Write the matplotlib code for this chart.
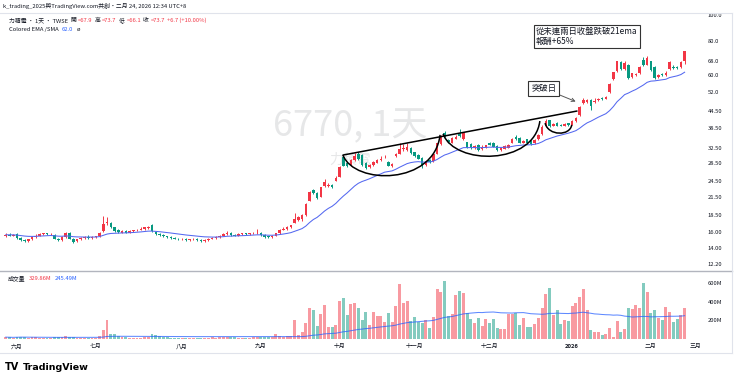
import numpy as np
import pandas as pd
import matplotlib
matplotlib.use("Agg")
import matplotlib.pyplot as plt
from matplotlib.path import Path
from matplotlib.patches import PathPatch
from matplotlib.lines import Line2D
from matplotlib.ticker import FixedLocator, NullLocator

plt.rcParams['font.family'] = ['Noto Sans CJK TC', 'DejaVu Sans']

# ---------------- data ----------------
holidays = ["2025-05-30", "2025-09-29", "2025-10-06", "2025-10-10", "2025-10-24",
            "2025-12-25", "2026-01-01", "2026-02-12", "2026-02-13", "2026-02-16",
            "2026-02-17", "2026-02-18", "2026-02-19", "2026-02-20", "2026-02-27"]
trade_dates = pd.bdate_range("2025-05-27", "2026-02-24")
trade_dates = trade_dates[~trade_dates.isin(pd.to_datetime(holidays))]
future_dates = pd.bdate_range("2026-02-25", "2026-03-06")
future_dates = future_dates[~future_dates.isin(pd.to_datetime(holidays))]

opens = [15.4, 15.6, 15.5, 15.7, 15.2, 14.9, 14.8, 15.0, 15.3, 15.5, 15.7, 15.8, 15.7, 15.6, 15.1, 14.9, 15.3, 15.9, 15.1, 14.8,
         15.0, 15.2, 15.3, 15.2, 15.3, 15.4, 16.1, 17.2, 17.3, 16.6, 16.2, 15.9, 16.1, 15.9, 16.1, 16.2, 16.3, 16.4, 16.5, 17.0,
         16.0, 15.7, 15.6, 15.4, 15.3, 15.2, 15.1, 15.0, 15.1, 14.9, 15.0, 15.1, 14.9, 14.8, 14.9, 15.1, 15.2, 15.3, 15.5, 15.7,
         15.9, 15.6, 15.5, 15.7, 15.8, 15.7, 15.8, 15.8, 15.9, 15.6, 15.4, 15.3, 15.5, 15.8, 16.3, 16.4, 16.6, 17.3, 17.7, 17.8,
         18.4, 20.8, 22.8, 22.3, 21.5, 23.5, 23.5, 23.7, 24.6, 25.5, 30.2, 28.5, 28.2, 29.4, 31.0, 30.6, 28.6, 27.6, 28.1, 28.7,
         29.4, 30.1, 28.9, 27.9, 30.3, 30.9, 32.1, 32.0, 32.6, 31.3, 30.6, 29.8, 28.2, 29.3, 29.0, 31.0, 33.6, 36.8, 34.8, 34.0,
         35.2, 36.6, 35.0, 34.1, 33.7, 32.5, 33.4, 32.2, 32.6, 34.0, 34.0, 33.0, 32.0, 32.3, 32.6, 34.0, 35.8, 35.5, 34.0, 35.0,
         34.5, 33.8, 35.0, 36.5, 39.0, 41.0, 39.2, 40.2, 39.6, 39.2, 40.0, 39.6, 40.8, 42.8, 47.6, 47.8, 48.7, 48.0, 48.7, 49.5,
         49.2, 52.0, 58.0, 62.5, 67.0, 63.5, 65.8, 59.0, 60.0, 61.0, 68.5, 65.8, 67.5, 64.7, 59.0, 60.5, 60.2, 63.5, 64.7, 64.3,
         64.5, 67.9]
highs = [15.8, 15.9, 15.7, 15.8, 15.3, 15.0, 15.1, 15.4, 15.7, 15.9, 15.9, 15.9, 15.8, 15.7, 15.2, 15.4, 16.0, 16.0, 15.2, 15.1,
         15.3, 15.5, 15.6, 15.4, 15.5, 16.0, 18.3, 18.1, 17.4, 16.7, 16.4, 16.2, 16.2, 16.2, 16.3, 16.4, 16.6, 16.7, 16.8, 17.1,
         16.1, 15.8, 15.7, 15.5, 15.4, 15.3, 15.2, 15.2, 15.2, 15.1, 15.2, 15.2, 15.0, 15.0, 15.2, 15.3, 15.4, 15.6, 15.8, 16.1,
         16.0, 15.7, 15.8, 15.9, 15.9, 15.9, 16.0, 16.4, 16.0, 15.7, 15.5, 15.6, 15.9, 16.4, 16.7, 16.8, 17.0, 18.8, 18.3, 18.6,
         20.4, 22.6, 23.0, 22.4, 23.4, 25.0, 24.2, 23.9, 25.6, 27.9, 30.6, 28.8, 29.6, 31.2, 31.3, 30.8, 28.8, 28.3, 29.0, 29.6,
         30.4, 30.6, 29.1, 28.6, 31.2, 34.0, 33.5, 33.8, 32.8, 31.5, 30.8, 30.0, 29.3, 29.5, 31.2, 34.0, 36.3, 37.5, 35.0, 35.8,
         36.2, 38.0, 37.3, 34.3, 34.0, 33.3, 33.6, 33.2, 33.4, 34.3, 34.2, 33.2, 32.6, 33.2, 33.5, 35.3, 36.2, 35.7, 34.9, 35.2,
         34.7, 35.0, 36.5, 39.5, 41.5, 41.3, 40.0, 40.5, 39.9, 40.0, 40.3, 41.0, 42.2, 46.3, 49.5, 49.2, 49.0, 49.5, 49.6, 50.0,
         50.3, 56.3, 61.6, 67.8, 68.0, 67.5, 66.3, 61.5, 61.5, 65.0, 70.0, 70.5, 68.0, 65.0, 60.8, 61.5, 62.3, 67.8, 65.5, 65.0,
         67.5, 73.7]
lows = [15.3, 15.4, 15.4, 15.1, 14.8, 14.7, 14.7, 14.9, 15.2, 15.4, 15.6, 15.6, 15.6, 15.0, 14.8, 14.8, 15.2, 15.0, 14.6, 14.7,
        14.9, 15.1, 15.1, 15.1, 15.2, 15.3, 16.0, 16.9, 16.5, 16.0, 15.9, 15.8, 15.8, 15.8, 16.0, 16.1, 16.2, 16.3, 16.4, 16.0,
        15.6, 15.5, 15.3, 15.2, 15.1, 15.0, 14.9, 14.9, 14.8, 14.8, 14.9, 14.8, 14.7, 14.7, 14.8, 15.0, 15.1, 15.2, 15.4, 15.6,
        15.5, 15.4, 15.4, 15.6, 15.6, 15.6, 15.7, 15.7, 15.5, 15.2, 15.2, 15.2, 15.4, 15.7, 16.2, 16.3, 16.5, 17.2, 17.6, 17.6,
        18.3, 20.7, 22.0, 21.1, 21.4, 23.3, 23.3, 23.1, 24.5, 25.4, 27.8, 27.7, 28.0, 29.2, 29.4, 28.0, 27.3, 27.4, 27.9, 28.5,
        29.2, 29.8, 27.8, 27.7, 30.1, 30.8, 31.8, 31.8, 31.0, 30.2, 29.5, 27.5, 28.0, 28.6, 28.9, 30.8, 33.4, 35.6, 33.9, 33.8,
        35.0, 35.6, 34.8, 32.4, 32.2, 32.3, 31.8, 32.0, 32.4, 33.2, 32.7, 31.8, 31.8, 32.1, 32.4, 33.8, 34.8, 33.8, 33.8, 33.6,
        33.4, 33.6, 34.8, 36.3, 38.8, 38.7, 39.0, 39.0, 39.0, 39.0, 39.2, 39.4, 40.6, 42.5, 47.2, 47.5, 44.8, 47.6, 48.3, 48.8,
        49.0, 51.5, 57.5, 62.0, 63.0, 63.0, 58.0, 58.5, 59.5, 60.5, 65.0, 65.5, 62.5, 58.0, 58.5, 59.5, 59.8, 63.0, 63.5, 63.5,
        64.0, 66.1]
closes = [15.6, 15.5, 15.6, 15.2, 14.9, 14.8, 15.0, 15.3, 15.5, 15.7, 15.8, 15.7, 15.75, 15.1, 14.9, 15.3, 15.9, 15.1, 14.7, 15.0,
          15.2, 15.3, 15.2, 15.3, 15.4, 15.9, 17.1, 17.4, 16.6, 16.1, 16.0, 16.1, 15.9, 16.1, 16.2, 16.3, 16.4, 16.6, 16.6, 16.1,
          15.7, 15.6, 15.4, 15.3, 15.2, 15.1, 15.0, 15.1, 14.9, 15.0, 15.1, 14.9, 14.8, 14.9, 15.1, 15.2, 15.3, 15.5, 15.7, 15.9,
          15.6, 15.5, 15.7, 15.8, 15.7, 15.8, 15.85, 15.9, 15.6, 15.3, 15.3, 15.5, 15.8, 16.3, 16.4, 16.6, 16.9, 17.8, 18.1, 18.4,
          20.3, 22.4, 22.2, 21.3, 23.3, 24.3, 23.8, 23.3, 25.3, 27.6, 28.0, 28.0, 29.4, 30.4, 29.6, 28.2, 27.5, 28.1, 28.8, 29.3,
          29.7, 30.2, 28.0, 28.3, 30.9, 32.2, 32.4, 32.7, 31.2, 30.4, 29.7, 27.8, 29.0, 28.9, 31.0, 33.8, 36.0, 36.0, 34.2, 35.5,
          35.8, 36.0, 37.0, 32.6, 32.4, 33.0, 32.0, 32.9, 33.2, 33.4, 32.9, 32.0, 32.4, 33.0, 33.3, 35.0, 35.0, 34.0, 34.6, 33.8,
          33.6, 34.8, 36.2, 38.8, 40.8, 39.0, 39.8, 39.2, 39.2, 39.8, 39.4, 40.8, 41.9, 46.0, 48.9, 48.6, 46.5, 48.5, 49.2, 49.0,
          49.8, 56.0, 61.6, 67.5, 63.5, 66.5, 58.5, 61.0, 60.8, 64.5, 65.5, 69.3, 63.0, 58.5, 60.2, 60.0, 61.2, 67.3, 63.9, 63.8,
          67.0, 73.7]
volumes_m = [20, 18, 15, 22, 25, 18, 15, 18, 20, 14, 12, 13, 12, 22, 18, 20, 32, 25, 20, 12,
             14, 15, 12, 13, 14, 30, 96, 203, 54, 50, 30, 22, 18, 15, 14, 16, 15, 18, 20, 54,
             40, 30, 22, 18, 15, 14, 12, 12, 14, 13, 15, 12, 16, 14, 15, 18, 16, 20, 18, 22,
             20, 18, 15, 14, 16, 15, 18, 25, 22, 20, 18, 25, 50, 30, 25, 28, 35, 203, 40, 78,
             168, 328, 310, 143, 264, 364, 125, 125, 150, 407, 443, 257, 371, 382, 328, 203, 293, 150, 293, 250,
             246, 186, 282, 186, 353, 589, 389, 407, 193, 232, 178, 168, 203, 121, 239, 532, 507, 621, 246, 268,
             471, 518, 496, 275, 214, 175, 228, 139, 211, 168, 214, 114, 104, 104, 264, 268, 275, 150, 221, 125,
             125, 161, 221, 328, 482, 543, 257, 310, 157, 203, 193, 353, 389, 446, 536, 310, 96, 71, 78, 43,
             54, 114, 25, 193, 78, 104, 328, 318, 364, 336, 596, 507, 282, 310, 221, 203, 339, 293, 186, 211,
             257, 329.86]

month_names = {6: "六月", 7: "七月", 8: "八月", 9: "九月", 10: "十月", 11: "十一月",
               12: "十二月", 1: "2026", 2: "二月", 3: "三月"}
price_ticks = [100.0, 80.0, 68.0, 60.0, 52.0, 44.5, 38.5, 32.5, 28.5, 24.5, 21.5, 18.5, 16.0, 14.0, 12.2]
price_tick_labels = ["100.0", "80.0", "68.0", "60.0", "52.0", "44.50", "38.50", "32.50",
                     "28.50", "24.50", "21.50", "18.50", "16.00", "14.00", "12.20"]
volume_ticks = [200, 400, 600]
volume_tick_labels = ["200M", "400M", "600M"]

# drawing anchors (bar index, price)
trend_line = [(89.9, 30.6), (152.3, 44.4)]
cups = [(89.9, 30.6, 115.8, 36.3, 23.7),
        (116.6, 36.6, 142.4, 40.8, 28.0),
        (143.8, 40.1, 150.9, 39.5, 35.9)]

# ---------------- derived ----------------
o = np.array(opens); h = np.array(highs); l = np.array(lows); c = np.array(closes)
v = np.array(volumes_m, dtype=float)
n = len(c)
x = np.arange(n)
ema21 = pd.Series(c).ewm(span=21, adjust=False).mean().values
vol_ma = pd.Series(v).rolling(50, min_periods=1).mean().values

UP = "#F23645"
DN = "#089981"
TXT = "#131722"
up_mask = c >= o
cols = np.where(up_mask, UP, DN)

W, H = 740, 383
fig = plt.figure(figsize=(W / 100, H / 100), dpi=100)
fig.patch.set_facecolor("white")

def fx(px):
    return px / W

def fy(py):
    return 1 - py / H

ax = fig.add_axes([fx(4), fy(268), (697 - 4) / W, (268 - 13) / H])
axv = fig.add_axes([fx(4), fy(339), (697 - 4) / W, (339 - 272) / H], sharex=ax)

for a in (ax, axv):
    a.set_facecolor("none")
    for s in a.spines.values():
        s.set_visible(False)

# price pane
ax.set_yscale("log")
ax.set_ylim(11.78, 101.7)
ax.set_xlim(-0.47, 184.3)
ax.vlines(x, l, h, colors=cols, lw=0.7, zorder=3)
body_bottom = np.minimum(o, c)
body_h = np.maximum(np.abs(c - o), 0.004 * c)
ax.bar(x, body_h, bottom=body_bottom, width=0.68, color=cols, linewidth=0, zorder=4)
ax.plot(x, ema21, color="#5468F0", lw=0.75, zorder=5)

# watermark
ax.text(0.5, 0.557, "6770, 1天", transform=ax.transAxes, ha="center", va="center",
        fontsize=26, color="#131722", alpha=0.1, zorder=1)
ax.text(0.5, 0.424, "力積電", transform=ax.transAxes, ha="center", va="center",
        fontsize=10, color="#131722", alpha=0.1, zorder=1)

# trend line
ax.plot([trend_line[0][0], trend_line[1][0]], [trend_line[0][1], trend_line[1][1]],
        color="black", lw=1.1, zorder=6, solid_capstyle="round")
# cups
for (x0, p0, x1, p1, pc) in cups:
    w = x1 - x0
    verts = [(x0, p0), (x0 + 0.12 * w, pc), (x1 - 0.06 * w, pc), (x1, p1)]
    codes = [Path.MOVETO, Path.CURVE4, Path.CURVE4, Path.CURVE4]
    ax.add_patch(PathPatch(Path(verts, codes), fill=False, ec="black", lw=1.1, zorder=6))

# annotations
ax.annotate("突破日", xy=(152.3, 47.9), xytext=(143.5, 53.7), fontsize=6, color=TXT,
            ha="center", va="center", zorder=8,
            bbox=dict(boxstyle="square,pad=0.35", fc="white", ec="#333333", lw=0.8),
            arrowprops=dict(arrowstyle="->", color="#555555", lw=0.7, shrinkA=0, shrinkB=1))
ax.text(141.4, 83.4, "從未連兩日收盤跌破21ema\n報酬+65%", fontsize=6, color=TXT,
        ha="left", va="center", linespacing=1.15, zorder=8,
        bbox=dict(boxstyle="square,pad=0.25", fc="white", ec="#333333", lw=0.8))

ax.yaxis.tick_right()
ax.yaxis.set_major_locator(FixedLocator(price_ticks))
ax.yaxis.set_minor_locator(NullLocator())
ax.set_yticklabels(price_tick_labels)
ax.tick_params(axis="y", length=0, pad=7.5, labelsize=4.2, labelcolor=TXT)
ax.tick_params(axis="x", length=0, labelbottom=False)

# volume pane
vcols = [(0.949, 0.212, 0.271, 0.5) if u else (0.031, 0.6, 0.506, 0.5) for u in up_mask]
axv.bar(x, v, width=0.78, color=vcols, linewidth=0)
axv.plot(x, vol_ma, color="#2962FF", lw=0.75, alpha=0.75)
axv.set_ylim(0, 717)
axv.yaxis.tick_right()
axv.yaxis.set_major_locator(FixedLocator(volume_ticks))
axv.set_yticklabels(volume_tick_labels)
axv.tick_params(axis="y", length=0, pad=7.5, labelsize=4.2, labelcolor=TXT)

# month ticks from the trading calendar
tick_pos, tick_lab = [], []
prev_m = trade_dates[0].month
for i, d in enumerate(trade_dates):
    if d.month != prev_m:
        tick_pos.append(i); tick_lab.append(month_names[d.month])
    prev_m = d.month
for j, d in enumerate(future_dates):
    if d.month != trade_dates[-1].month:
        tick_pos.append(n + j); tick_lab.append(month_names[d.month])
        break
axv.set_xticks(tick_pos)
axv.set_xticklabels(tick_lab)
axv.tick_params(axis="x", length=0, pad=3.5, labelsize=4.2, labelcolor=TXT)
for t in axv.get_xticklabels():
    if t.get_text() == "2026":
        t.set_fontweight("bold")

# frame lines
lc = "#E0E3EB"
fig.add_artist(Line2D([0, fx(732)], [fy(13), fy(13)], color=lc, lw=0.8))
fig.add_artist(Line2D([0, fx(732)], [fy(270.5), fy(270.5)], color="#B2B5BE", lw=1.0))
fig.add_artist(Line2D([0, fx(732)], [fy(353), fy(353)], color=lc, lw=0.8))
fig.add_artist(Line2D([fx(732), fx(732)], [fy(13), fy(353)], color=lc, lw=0.8))

# header texts (segments chained one after another)
def chain_ann(parts, x0, y0, size=4.2, gap=2.0):
    t = fig.text(fx(x0), fy(y0), parts[0][0], color=parts[0][1], fontsize=size,
                 va="center", ha="left")
    for s, col in parts[1:]:
        t = plt.annotate(s, xy=(1, 0.5), xycoords=t, xytext=(gap, 0), textcoords="offset points",
                         va="center", ha="left", fontsize=size, color=col)
    return t

fig.text(fx(3), fy(6), "k_trading_2025與TradingView.com共創・二月 24, 2026 12:34 UTC+8",
         fontsize=4.2, color=TXT, va="center", ha="left")
chain_ann([("力積電 · 1天 · TWSE", TXT), ("開", TXT), ("=67.9", UP), ("高", TXT), ("=73.7", UP),
           ("低", TXT), ("=66.1", UP), ("收", TXT), ("=73.7", UP), ("+6.7 (+10.00%)", UP)],
          9, 20.5, gap=1.4)
chain_ann([("Colored EMA /SMA", TXT), ("62.0", "#2962FF"), ("ø", TXT)], 9, 29.5, gap=2.5)
chain_ann([("成交量", TXT), ("329.86M", UP), ("245.49M", "#2962FF")], 8, 278, gap=2.5)

# TradingView logo
fig.text(fx(5), fy(367), "TV", fontsize=7, fontweight="heavy", color="black", va="center", ha="left",
         family=["DejaVu Sans"])
fig.text(fx(23), fy(367), "TradingView", fontsize=6.8, fontweight="bold", color="black",
         va="center", ha="left", family=["DejaVu Sans"])

fig.savefig("out.png", dpi=100, facecolor="white")
